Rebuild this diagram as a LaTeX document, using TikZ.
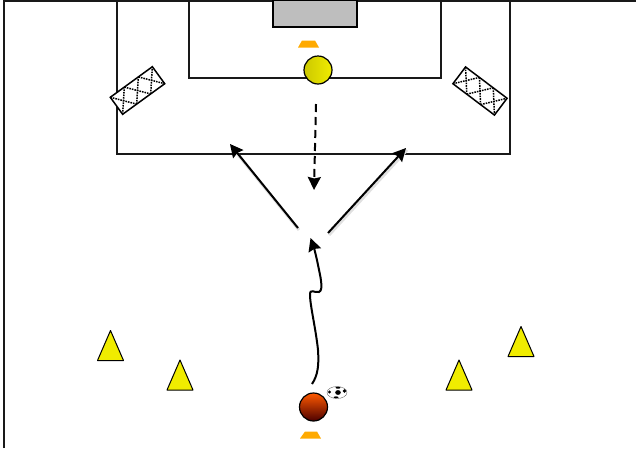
\documentclass[tikz,border=0pt]{standalone}
\usetikzlibrary{arrows.meta,shapes.geometric}
\definecolor{coneyellow}{RGB}{240,236,0}
\definecolor{markorange}{RGB}{255,170,0}
\definecolor{goalgrey}{RGB}{190,190,190}
\tikzset{
  x=1pt,y=-1pt,
  pitch/.style={line width=2pt,draw=black!90},
  run/.style={line width=2pt,black,-{Stealth[length=13pt,width=13pt,inset=1.5pt]}},
  runshadow/.style={line width=3pt,black!12},
  conetri/.style={draw=black,line width=1pt,fill=coneyellow,line join=round},
  marker/.style={fill=markorange,draw=none},
  netline/.style={dash pattern=on 1.6pt off 1pt,line width=1.5pt},
}
\newcommand{\mynet}[2]{%
  \begin{scope}[shift={(#1)},rotate=#2]
    \draw[line width=1.5pt,fill=white] (-26,-10.5) rectangle (26,10.5);
    \foreach \a in {-26,-8.67,8.67}{
      \draw[netline] (\a,-10.5) -- (\a+17.33,10.5);
      \draw[netline] (\a,10.5) -- (\a+17.33,-10.5);
    }
  \end{scope}}
\newcommand{\mycone}[2]{%
  \draw[conetri] (#1-13,#2) -- (#1,#2-30) -- (#1+13,#2) -- cycle;}
\begin{document}
\begin{tikzpicture}
\useasboundingbox (0,0) rectangle (636,448);
% frame
\draw[line width=2.4pt,black!90] (4,448) -- (4,1) -- (636,1);
% penalty area
\draw[pitch] (116.5,0) -- (116.5,154) -- (509.5,154) -- (509.5,0);
% goal area
\draw[pitch] (188.5,0) -- (188.5,77.5) -- (441,77.5) -- (441,0);
% goal
\draw[line width=2pt,fill=goalgrey] (272.5,0) rectangle (357,27);
% nets
\mynet{137.5,90.5}{36}
\mynet{480,91}{-37}
% orange markers
\fill[marker] (298,47.5) -- (302,40.5) -- (315,40.5) -- (319,47.5) -- cycle;
\fill[marker] (300,438.5) -- (305,431.5) -- (317,431.5) -- (321,438.5) -- cycle;
% keeper
\node[circle,draw=black,line width=1.2pt,minimum size=28pt,inner sep=0pt,shading angle=45,left color=coneyellow!85!black,right color=coneyellow] (keeper) at (318,70) {};
% player
\node[circle,draw=black,line width=1.2pt,minimum size=28pt,inner sep=0pt,top color=orange!70!red,bottom color=black!70!red] (player) at (313.5,407) {};
% ball
\node[ellipse,draw=black!60,line width=.4pt,minimum width=20pt,minimum height=12pt,inner sep=0pt,fill=white] (ball) at (337,392.5) {};
\fill[black] (338,392.5) circle [x radius=2.8,y radius=2.4];
\fill[black] (329.5,392) circle [x radius=1.5,y radius=1.6];
\fill[black] (344.5,391) circle [x radius=1.8,y radius=1.8];
\fill[black] (338,387.7) circle [x radius=2.5,y radius=1];
\fill[black] (336,397.3) circle [x radius=2.5,y radius=.9];
% cones
\mycone{110.5}{360.5}
\mycone{180}{390}
\mycone{459}{390}
\mycone{521}{356.5}
% runs
\coordinate (a1) at (298,228);
\coordinate (a2) at (230,144);
\coordinate (b1) at (328,233);
\coordinate (b2) at (406,148);
\draw[runshadow] ([shift={(1,2)}]a1) -- ([shift={(1,2)}]a2);
\draw[runshadow] ([shift={(1,2)}]b1) -- ([shift={(1,2)}]b2);
\draw[run] (a1) -- (a2);
\draw[run] (b1) -- (b2);
\coordinate (c1) at (316,104);
\coordinate (c2) at (314,190);
\draw[run,dash pattern=on 8pt off 5pt] (c1) -- (c2);
\coordinate (d1) at (312,384);
\coordinate (d2) at (310.5,238);
\draw[run] (d1) .. controls (318,375) and (319,365) .. (318,350)
  .. controls (316,330) and (310,305) .. (310,295)
  .. controls (310,288) and (314,293) .. (319,292)
  .. controls (324,290) and (320,275) .. (318,265)
  .. controls (316,255) and (314,248) .. (d2);
\end{tikzpicture}
\end{document}
